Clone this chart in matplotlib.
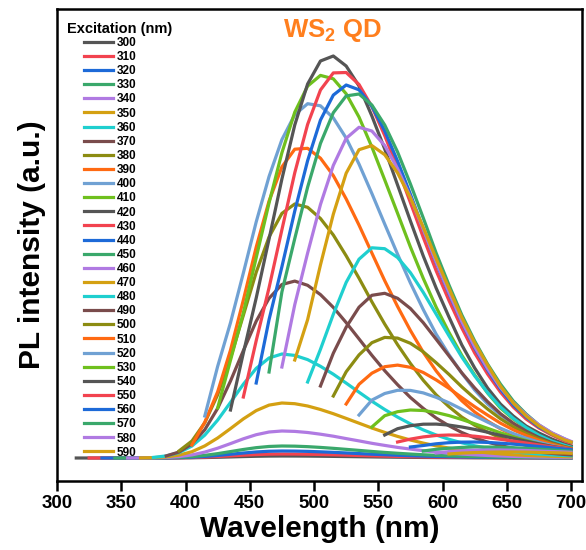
import matplotlib
matplotlib.use('Agg')
import matplotlib.pyplot as plt

plt.rcParams['font.family'] = ['Liberation Sans', 'DejaVu Sans']
plt.rcParams['font.weight'] = 'bold'
plt.rcParams['mathtext.fontset'] = 'custom'
plt.rcParams['mathtext.rm'] = 'Liberation Sans:bold'
plt.rcParams['mathtext.bf'] = 'Liberation Sans:bold'
plt.rcParams['mathtext.default'] = 'bf'

# emission wavelength grid (nm); each spectrum starts 15 nm above its excitation
wl = [315, 325, 335, 345, 355, 365, 375, 385, 395, 405, 415, 425, 435, 445, 455,
      465, 475, 485, 495, 505, 515, 525, 535, 545, 555, 565, 575, 585, 595, 605,
      615, 625, 635, 645, 655, 665, 675, 685, 695, 700]

excitation = [300, 310, 320, 330, 340, 350, 360, 370, 380, 390,
              400, 410, 420, 430, 440, 450, 460, 470, 480, 490,
              500, 510, 520, 530, 540, 550, 560, 570, 580, 590]

# PL intensity (a.u.)
I_300 = [0, 0, 0, 0, 0, 0, 0.01, 0.04, 0.1, 0.23, 0.44, 0.73, 1.07, 1.42, 1.72, 1.92, 2.0, 1.97, 1.89, 1.76,
         1.61, 1.44, 1.27, 1.09, 0.93, 0.79, 0.66, 0.54, 0.44, 0.36, 0.29, 0.23, 0.19, 0.15, 0.12, 0.1, 0.08, 0.06, 0.05, 0.04]
I_310 = [0, 0, 0, 0, 0.01, 0.02, 0.08, 0.21, 0.46, 0.88, 1.46, 2.14, 2.84, 3.45, 3.85, 4.0, 3.95, 3.78, 3.53, 3.22,
         2.88, 2.53, 2.18, 1.86, 1.57, 1.31, 1.08, 0.88, 0.72, 0.58, 0.47, 0.38, 0.3, 0.24, 0.19, 0.15, 0.12, 0.1, 0.08]
I_320 = [0, 0, 0, 0.01, 0.04, 0.14, 0.36, 0.8, 1.54, 2.55, 3.75, 4.97, 6.03, 6.73, 7.0, 6.91, 6.62, 6.17, 5.64, 5.04,
         4.43, 3.82, 3.26, 2.75, 2.3, 1.89, 1.55, 1.26, 1.02, 0.82, 0.66, 0.53, 0.42, 0.34, 0.27, 0.21, 0.17, 0.15]
I_330 = [0, 0, 0.02, 0.07, 0.24, 0.62, 1.38, 2.64, 4.37, 6.42, 8.52, 10.34, 11.54, 12.0, 11.84, 11.35, 10.58, 9.67,
         8.64, 7.6, 6.55, 5.59, 4.72, 3.94, 3.24, 2.65, 2.16, 1.75, 1.4, 1.13, 0.9, 0.72, 0.58, 0.46, 0.36, 0.29, 0.25]
I_340 = [0.01, 0.04, 0.16, 0.54, 1.4, 3.1, 5.9, 9.8, 14.4, 19.2, 23.3, 26.0, 27.0, 26.6, 25.5, 23.8, 21.8, 19.4,
         17.1, 14.7, 12.6, 10.6, 8.9, 7.3, 6.0, 4.9, 3.9, 3.2, 2.5, 2.0, 1.6, 1.3, 1.0, 0.8, 0.65, 0.57]
I_350 = [0.08, 0.33, 1.1, 2.9, 6.3, 12.1, 20.0, 29.4, 39.1, 47.4, 52.9, 55.0, 54.3, 52.0, 48.5, 44.3, 39.6, 34.8,
         30.0, 25.6, 21.6, 18.0, 14.9, 12.2, 9.9, 8.0, 6.4, 5.2, 4.1, 3.3, 2.6, 2.1, 1.7, 1.3, 1.2]
I_360 = [0.6, 2.1, 5.4, 12.0, 22.9, 37.9, 55.6, 73.8, 89.6, 100.0, 104.0, 102.6, 98.4, 91.7, 83.8, 74.9, 65.8,
         56.8, 48.5, 40.9, 34.1, 28.1, 23.0, 18.7, 15.2, 12.2, 9.8, 7.8, 6.2, 5.0, 4.0, 3.1, 2.5, 2.2]
I_370 = [2.1, 6.0, 14.1, 28.3, 49.6, 77.0, 107.4, 136.8, 159.7, 173.5, 176.9, 172.7, 163.4, 150.6, 135.4, 119.1,
         102.7, 87.3, 73.3, 60.5, 49.6, 40.0, 32.2, 25.5, 20.2, 15.9, 12.4, 9.7, 7.6, 5.8, 4.6, 3.5, 3.1]
I_380 = [7.1, 17.0, 35.3, 63.2, 100.1, 142.7, 185.7, 221.0, 244.6, 254.0, 250.7, 239.5, 223.0, 202.2, 179.8,
         156.2, 133.9, 113.3, 94.5, 77.7, 63.2, 51.3, 40.9, 32.8, 25.9, 20.3, 16.0, 12.7, 9.9, 7.6, 6.1, 5.3]
I_390 = [13.0, 35.8, 66.2, 107.9, 158.0, 210.9, 256.9, 291.1, 308.8, 309.7, 299.8, 282.4, 259.1, 232.9, 205.0,
         177.3, 151.5, 127.5, 105.7, 87.1, 71.2, 57.2, 46.0, 37.0, 29.2, 23.3, 18.3, 14.3, 11.2, 8.7, 7.8]
I_400 = [42.0, 91.6, 135.3, 185.0, 236.1, 281.5, 318.4, 343.3, 354.3, 352.2, 340.1, 319.9, 293.9, 264.5, 233.9,
         203.8, 175.0, 148.4, 123.9, 103.3, 84.8, 68.0, 54.0, 43.0, 34.0, 27.0, 21.0, 16.0, 12.5, 11.0]
I_410 = [50.0, 97.8, 145.2, 200.3, 255.1, 305.3, 345.8, 371.9, 382.6, 379.2, 364.2, 340.9, 311.0, 278.1, 244.7,
         211.0, 179.6, 150.9, 125.6, 102.6, 83.0, 65.0, 50.0, 39.0, 30.0, 23.0, 18.0, 14.0, 12.0]
I_420 = [48, 105, 160, 219, 279, 333, 374, 397, 402, 392, 372, 342, 309, 273, 237, 202, 170, 141, 113, 90,
         70, 54, 42, 32, 25, 19, 14, 12]
I_430 = [61.0, 117.3, 170.3, 228.3, 285.2, 333.6, 368.0, 385.1, 385.5, 373.5, 351.4, 322.4, 289.9, 255.4, 220.6,
         187.3, 157.5, 130.0, 105.0, 84.0, 66.0, 51.0, 39.0, 30.0, 23.0, 17.0, 15.0]
I_440 = [75.0, 138.4, 191.3, 246.9, 297.3, 337.9, 362.9, 373.0, 368.2, 351.7, 327.1, 296.9, 263.7, 229.0, 195.5,
         164.5, 135.8, 110.0, 88.0, 69.0, 53.0, 41.0, 31.0, 24.0, 18.0, 16.0]
I_450 = [86.0, 166.1, 219.4, 270.8, 314.6, 345.3, 362.1, 364.0, 353.0, 333.0, 306.0, 274.0, 240.0, 205.0, 173.0,
         143.0, 117.0, 94.0, 74.0, 57.0, 44.0, 33.0, 25.0, 19.0, 16.0]
I_460 = [91.0, 153.3, 204.9, 253.5, 292.6, 319.7, 330.7, 327.0, 312.5, 289.3, 260.8, 228.7, 196.3, 165.5, 136.4,
         111.2, 89.4, 70.5, 55.3, 43.0, 33.1, 25.2, 19.2, 16.6]
I_470 = [98.0, 138.3, 193.1, 243.8, 284.8, 308.3, 312.4, 303.3, 285.1, 260.1, 230.7, 199.4, 169.6, 140.5, 115.2,
         93.0, 72.0, 55.0, 42.0, 32.0, 24.0, 18.0, 16.0]
I_480 = [76.0, 108.7, 143.7, 175.6, 198.8, 210.2, 209.3, 200.5, 185.3, 165.6, 143.9, 122.2, 100.9, 82.1, 65.4,
         51.1, 39.7, 30.4, 22.8, 16.9, 12.7, 10.8]
I_490 = [72.0, 104.8, 130.8, 150.8, 162.7, 164.7, 159.7, 149.5, 135.3, 118.8, 102.1, 85.1, 70.0, 56.4, 44.4,
         34.8, 26.9, 20.5, 15.3, 11.4, 9.9]
I_500 = [62.0, 86.2, 103.1, 115.3, 120.6, 119.9, 114.7, 106.2, 95.3, 83.6, 71.1, 59.7, 49.0, 39.3, 31.2, 24.6,
         19.0, 14.5, 11.0, 9.6]
I_510 = [54.0, 73.7, 84.8, 91.3, 92.9, 90.7, 85.5, 78.1, 69.7, 60.4, 51.3, 42.9, 34.9, 28.2, 22.5, 17.6, 13.6,
         10.5, 9.1]
I_520 = [43.0, 57.9, 64.5, 67.7, 67.6, 65.1, 60.7, 55.2, 48.8, 42.3, 35.9, 29.8, 24.5, 19.8, 15.8, 12.4, 9.7, 8.5]
I_530 = [31.0, 42.3, 46.3, 48.0, 47.5, 45.5, 42.4, 38.5, 34.2, 29.7, 25.2, 21.2, 17.5, 14.2, 11.4, 9.1, 8.1]
I_540 = [23.0, 29.3, 32.3, 33.8, 33.9, 32.9, 31.0, 28.6, 25.8, 22.7, 19.7, 16.8, 14.1, 11.7, 9.6, 8.6]
I_550 = [16.0, 18.9, 21.1, 22.5, 23.0, 22.7, 21.8, 20.4, 18.7, 16.9, 15.0, 13.0, 11.2, 9.5, 8.7]
I_560 = [11.0, 12.5, 14.2, 15.3, 15.9, 16.0, 15.6, 14.8, 13.9, 12.7, 11.5, 10.2, 8.9, 8.3]
I_570 = [7.0, 8.7, 9.8, 10.6, 11.0, 11.0, 10.7, 10.3, 9.6, 8.9, 8.1, 7.2, 6.8]
I_580 = [5.0, 6.4, 7.2, 7.7, 8.0, 8.0, 7.8, 7.5, 7.0, 6.5, 6.0, 5.7]
I_590 = [4.0, 4.9, 5.4, 5.8, 6.0, 6.0, 5.9, 5.6, 5.3, 5.0, 4.7]

spectra = [I_300, I_310, I_320, I_330, I_340, I_350, I_360, I_370, I_380, I_390,
           I_400, I_410, I_420, I_430, I_440, I_450, I_460, I_470, I_480, I_490,
           I_500, I_510, I_520, I_530, I_540, I_550, I_560, I_570, I_580, I_590]

# Origin-like colour cycle
colors = ['#555555', '#f2434f', '#1d6ad8', '#3aa86b', '#b07ae2', '#d4a012',
          '#1fcfcf', '#7a4c4c', '#8c8c12', '#ff6a12', '#70a1d3', '#6fc01e']

fig = plt.figure(figsize=(5.86, 5.5), dpi=100)
ax = fig.add_axes([57/586, 1 - 481/550, (582 - 57)/586, (481 - 9)/550])

for i, (exc, vals) in enumerate(zip(excitation, spectra)):
    x = wl[len(wl) - len(vals):]
    assert x[0] == exc + 15, exc
    ax.plot(x, vals, color=colors[i % len(colors)], lw=2.3, label=str(exc),
            solid_joinstyle='round')

ax.set_xlim(300, 708.5)
ax.set_ylim(-23, 449)
ax.set_xticks([300, 350, 400, 450, 500, 550, 600, 650, 700])
ax.set_yticks([])
ax.tick_params(axis='x', direction='out', length=7, width=1.8, labelsize=13.5, pad=3)
for sp in ax.spines.values():
    sp.set_linewidth(1.8)

ax.set_xlabel('Wavelength (nm)', fontsize=21.5, fontweight='bold', labelpad=2)
ax.set_ylabel('PL intensity (a.u.)', fontsize=21.5, fontweight='bold', labelpad=8)

ax.text(0.524, 0.955, r'WS$_\mathbf{2}$ QD', transform=ax.transAxes, color='#ff7f1e',
        fontsize=18.5, ha='center', va='center')

ax.text((67 - 57)/525, (481 - 29)/472, 'Excitation (nm)', transform=ax.transAxes,
        fontsize=10.5, fontweight='bold', ha='left', va='center')

ax.legend(loc='upper left', bbox_to_anchor=((84 - 57)/525, (481 - 37)/472),
          frameon=False, fontsize=8.5, handlelength=2.45, handletextpad=0.3,
          labelspacing=0.18, borderaxespad=0, borderpad=0)

fig.savefig('out.png', dpi=100)
